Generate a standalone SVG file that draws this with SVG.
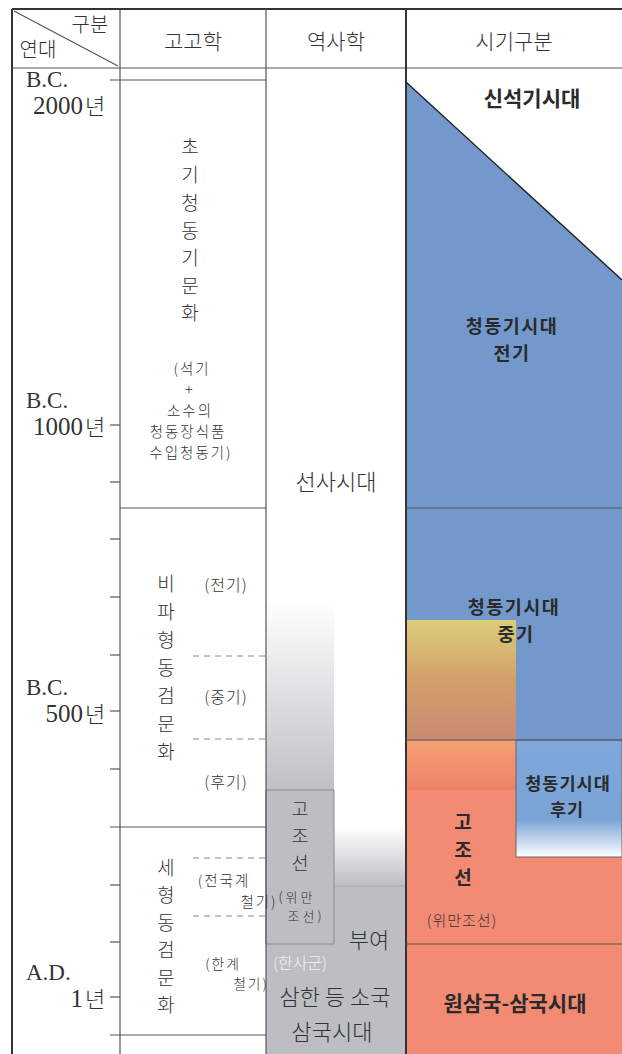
<svg xmlns="http://www.w3.org/2000/svg" width="622" height="1054" viewBox="0 0 622 1054">
<defs>
<style>
.t{font-family:"Noto Sans CJK KR","Noto Sans",sans-serif;font-weight:300;fill:#333;text-anchor:middle}
.s{font-family:"Liberation Serif","Noto Sans CJK KR",serif;fill:#333}
.b{font-family:"Noto Sans CJK KR","Noto Sans",sans-serif;font-weight:700;fill:#2a2a2a;text-anchor:middle}
.v{font-size:19px}
.p{font-size:14.5px;letter-spacing:2px}
.ln{stroke:#555;stroke-width:1.2;fill:none}
.bd{stroke:#333;stroke-width:2;fill:none}
.da{stroke:#888;stroke-width:1;stroke-dasharray:6 5;fill:none}
</style>
<linearGradient id="gGray1" x1="0" y1="0" x2="0" y2="1"><stop offset="0" stop-color="#ffffff"/><stop offset="1" stop-color="#bfc0c4"/></linearGradient>
<linearGradient id="gGray2" x1="0" y1="0" x2="0" y2="1"><stop offset="0" stop-color="#ffffff"/><stop offset="1" stop-color="#bdbec2"/></linearGradient>
<linearGradient id="gYel" x1="0" y1="0" x2="0" y2="1"><stop offset="0" stop-color="#dccd7a"/><stop offset="0.5" stop-color="#d2a06a"/><stop offset="1" stop-color="#c98a72"/></linearGradient>
<linearGradient id="gOr" x1="0" y1="0" x2="0" y2="1"><stop offset="0" stop-color="#f6a072"/><stop offset="1" stop-color="#ef826a"/></linearGradient>
<linearGradient id="gBl" x1="0" y1="0" x2="0" y2="1"><stop offset="0" stop-color="#7ea8dc"/><stop offset="0.68" stop-color="#7aa3d6"/><stop offset="1" stop-color="#ffffff"/></linearGradient>
</defs>
<rect width="622" height="1054" fill="#ffffff"/>

<g id="fills">
<polygon points="406,82 622,280 622,740 406,740" fill="#7298cc"/>
<rect x="406" y="620" width="110" height="120" fill="url(#gYel)"/>
<rect x="406" y="740" width="216" height="314" fill="#f38a73"/>
<rect x="406" y="740" width="110" height="50" fill="url(#gOr)"/>
<rect x="516" y="740" width="106" height="117" fill="url(#gBl)" stroke="#666" stroke-width="1"/>
<rect x="266" y="600" width="68" height="190" fill="url(#gGray1)"/>
<rect x="334" y="826" width="72" height="60" fill="url(#gGray2)"/>
<rect x="334" y="886" width="72" height="168" fill="#bdbec2"/>
<rect x="266" y="944" width="140" height="110" fill="#bdbec2"/>
<rect x="266" y="790" width="68" height="154" fill="#bdbec2" stroke="#8a8a8e" stroke-width="1"/>
<line x1="334" y1="886" x2="406" y2="886" stroke="#a8a9ad" stroke-width="1"/>
</g>

<g id="grid">
<line class="bd" x1="12" y1="9" x2="622" y2="9"/>
<line class="bd" x1="12" y1="9" x2="12" y2="1054"/>
<line class="ln" x1="12" y1="68" x2="622" y2="68"/>
<line class="ln" x1="120" y1="9" x2="120" y2="1054"/>
<line class="ln" x1="266" y1="9" x2="266" y2="1054"/>
<line class="bd" x1="406" y1="9" x2="406" y2="1054"/>
<line class="ln" x1="14" y1="11" x2="118" y2="66" stroke-width="1"/>
<line class="ln" x1="110" y1="80" x2="266" y2="80"/>
<line class="ln" x1="120" y1="508" x2="266" y2="508"/>
<line class="ln" x1="110" y1="827" x2="266" y2="827"/>
<line class="ln" x1="110" y1="1035" x2="266" y2="1035"/>
<line class="da" x1="193" y1="656" x2="266" y2="656"/>
<line class="da" x1="193" y1="739" x2="266" y2="739"/>
<line class="da" x1="193" y1="858" x2="266" y2="858"/>
<line class="da" x1="193" y1="916" x2="266" y2="916"/>
<line x1="406" y1="82" x2="622" y2="280" stroke="#222" stroke-width="1.4"/>
<line class="ln" x1="406" y1="508" x2="622" y2="508"/>
<line class="ln" x1="406" y1="740" x2="622" y2="740"/>
<line class="ln" x1="406" y1="944" x2="622" y2="944"/>
</g>

<g id="ticks" stroke="#555" stroke-width="1.2">
<line x1="110" y1="425" x2="120" y2="425"/>
<line x1="110" y1="482" x2="120" y2="482"/>
<line x1="110" y1="539" x2="120" y2="539"/>
<line x1="110" y1="597" x2="120" y2="597"/>
<line x1="110" y1="655" x2="120" y2="655"/>
<line x1="110" y1="711" x2="120" y2="711"/>
<line x1="110" y1="769" x2="120" y2="769"/>
<line x1="110" y1="885" x2="120" y2="885"/>
<line x1="110" y1="942" x2="120" y2="942"/>
<line x1="110" y1="997" x2="120" y2="997"/>
</g>

<g id="header">
<text class="t" x="90" y="32" font-size="20">구분</text>
<text class="t" x="38" y="57" font-size="20">연대</text>
<text class="t" x="193" y="49" font-size="21">고고학</text>
<text class="t" x="336" y="49" font-size="21">역사학</text>
<text class="t" x="514" y="49" font-size="21">시기구분</text>
</g>

<g id="axis">
<text class="s" x="26" y="87" font-size="23">B.C.</text>
<text class="s" x="83" y="114" font-size="25" text-anchor="end">2000</text>
<text class="t" x="95" y="114" font-size="22">년</text>
<text class="s" x="26" y="408" font-size="23">B.C.</text>
<text class="s" x="83" y="435" font-size="25" text-anchor="end">1000</text>
<text class="t" x="95" y="435" font-size="22">년</text>
<text class="s" x="26" y="695" font-size="23">B.C.</text>
<text class="s" x="83" y="722" font-size="25" text-anchor="end">500</text>
<text class="t" x="95" y="722" font-size="22">년</text>
<text class="s" x="26" y="980" font-size="23">A.D.</text>
<text class="s" x="83" y="1007" font-size="25" text-anchor="end">1</text>
<text class="t" x="95" y="1007" font-size="22">년</text>
</g>

<g id="early-bronze-culture">
<text class="t v" x="190" y="154">초</text>
<text class="t v" x="190" y="182">기</text>
<text class="t v" x="190" y="210">청</text>
<text class="t v" x="190" y="238">동</text>
<text class="t v" x="190" y="265">기</text>
<text class="t v" x="190" y="293">문</text>
<text class="t v" x="190" y="320">화</text>
<text class="t p" x="192" y="374">(석기</text>
<text class="t p" x="190" y="395">+</text>
<text class="t p" x="190" y="416">소수의</text>
<text class="t p" x="188" y="437">청동장식품</text>
<text class="t p" x="191" y="458">수입청동기)</text>
</g>

<g id="mandolin-dagger-culture">
<text class="t v" x="166" y="591">비</text>
<text class="t v" x="166" y="619">파</text>
<text class="t v" x="166" y="647">형</text>
<text class="t v" x="166" y="675">동</text>
<text class="t v" x="166" y="703">검</text>
<text class="t v" x="166" y="731">문</text>
<text class="t v" x="166" y="759">화</text>
<text class="t" x="226" y="591" font-size="16" letter-spacing="1">(전기)</text>
<text class="t" x="226" y="703" font-size="16" letter-spacing="1">(중기)</text>
<text class="t" x="226" y="788" font-size="16" letter-spacing="1">(후기)</text>
</g>

<g id="slender-dagger-culture">
<text class="t" x="166" y="875" font-size="18.8">세</text>
<text class="t" x="166" y="902" font-size="18.8">형</text>
<text class="t" x="166" y="930" font-size="18.8">동</text>
<text class="t" x="166" y="957" font-size="18.8">검</text>
<text class="t" x="166" y="985" font-size="18.8">문</text>
<text class="t" x="166" y="1012" font-size="18.8">화</text>
<text class="t p" x="224" y="886">(전국계</text>
<text class="t p" x="259" y="907" text-anchor="end">철기)</text>
<text class="t" x="223" y="969" font-size="13.8" letter-spacing="2">(한계</text>
<text class="t" x="251" y="989" font-size="13.8" letter-spacing="2" text-anchor="end">철기)</text>
</g>

<g id="history">
<text class="t" x="336" y="490" font-size="22">선사시대</text>
<text class="t" x="300" y="816" font-size="18.5">고</text>
<text class="t" x="300" y="843" font-size="18.5">조</text>
<text class="t" x="300" y="870" font-size="18.5">선</text>
<text class="t" x="297" y="902" font-size="13" letter-spacing="3">(위만</text>
<text class="t" x="306" y="921" font-size="13" letter-spacing="3">조선)</text>
<text class="t" x="369" y="948" font-size="22">부여</text>
<text class="t" x="300" y="969" font-size="16" style="fill:#f2f2f4">(한사군)</text>
<text class="t" x="335" y="1005" font-size="22">삼한 등 소국</text>
<text class="t" x="332" y="1040" font-size="22">삼국시대</text>
</g>

<g id="periods">
<text class="b" x="532" y="106" font-size="21">신석기시대</text>
<text class="b" x="512" y="333" font-size="18.5" letter-spacing="1.5">청동기시대</text>
<text class="b" x="512" y="360" font-size="18.5" letter-spacing="1.5">전기</text>
<text class="b" x="514" y="614" font-size="18.5" letter-spacing="1.5">청동기시대</text>
<text class="b" x="516" y="641" font-size="18.5" letter-spacing="1.5">중기</text>
<text class="b" x="568" y="790" font-size="17.5" letter-spacing="1">청동기시대</text>
<text class="b" x="567" y="816" font-size="17.5" letter-spacing="1">후기</text>
<text class="b" x="463" y="829" font-size="19">고</text>
<text class="b" x="463" y="857" font-size="19">조</text>
<text class="b" x="463" y="885" font-size="19">선</text>
<text class="t" x="462" y="926" font-size="15" letter-spacing="1">(위만조선)</text>
<text class="b" x="515" y="1011" font-size="21">원삼국-삼국시대</text>
</g>
</svg>
